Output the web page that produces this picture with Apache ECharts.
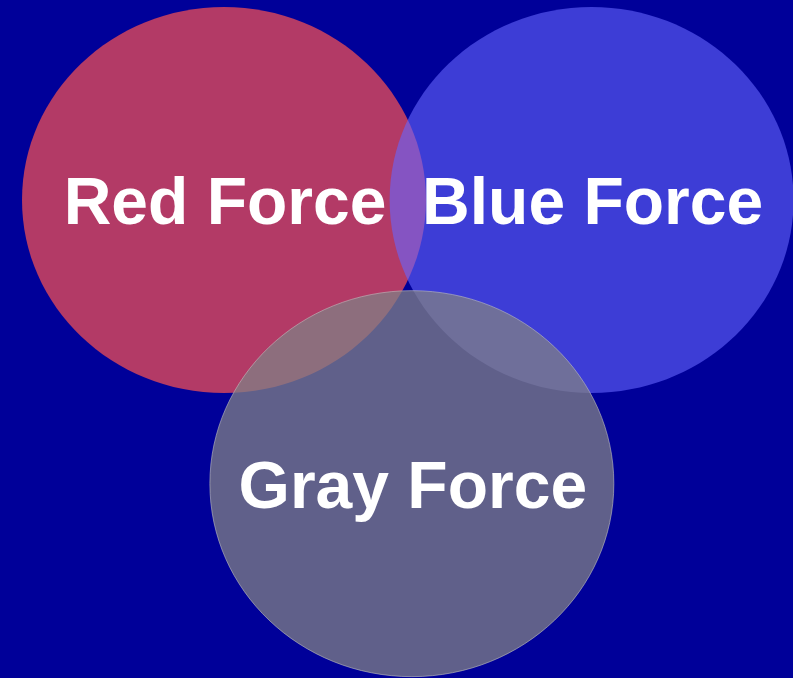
<!DOCTYPE html>
<html>
<head>
<meta charset="utf-8">
<script src="https://cdn.jsdelivr.net/npm/echarts@6/dist/echarts.min.js"></script>
<style>
html,body{margin:0;padding:0;background:#000099;}
#chart{width:793px;height:678px;}
</style>
</head>
<body>
<div id="chart"></div>
<script>
// Venn sets: name, centre (data units), radius (data units)
var setNames = ['Red Force', 'Blue Force', 'Gray Force'];
var centerX = [1.0, 2.82, 1.93];
var centerY = [1.0, 1.0, 2.47];
var radius = [1.0, 1.0, 1.0];

var fills = ['rgba(255,82,80,0.70)', 'rgba(102,102,255,0.60)', 'rgba(128,128,134,0.75)'];
var strokes = [null, null, 'rgba(190,190,190,0.6)'];

var data = setNames.map(function (n, i) {
  return [centerX[i], centerY[i], radius[i], n];
});

var chart = echarts.init(document.getElementById('chart'), null, {renderer: 'canvas'});
chart.setOption({
  backgroundColor: '#000099',
  animation: false,
  grid: {left: 0, right: 0, top: 0, bottom: 0, containLabel: false},
  xAxis: {type: 'value', min: -0.109, max: 3.817, show: false},
  yAxis: {type: 'value', min: -0.036, max: 3.477, inverse: true, show: false},
  series: [{
    type: 'custom',
    coordinateSystem: 'cartesian2d',
    data: data,
    clip: false,
    renderItem: function (params, api) {
      var i = params.dataIndex;
      var c = api.coord([api.value(0), api.value(1)]);
      var s = api.size([api.value(2), api.value(2)]);
      return {
        type: 'group',
        children: [{
          type: 'ellipse',
          shape: {cx: c[0], cy: c[1], rx: s[0], ry: s[1]},
          style: {
            fill: fills[i],
            stroke: strokes[i] || 'none',
            lineWidth: strokes[i] ? 1 : 0
          },
          z2: i
        }, {
          type: 'text',
          x: c[0] + 1,
          y: c[1] + 6,
          style: {
            text: data[i][3],
            fill: '#ffffff',
            font: 'bold 66px "Liberation Sans", Arial, sans-serif',
            align: 'center',
            verticalAlign: 'middle'
          },
          z2: 10
        }]
      };
    }
  }]
});
</script>
</body>
</html>
